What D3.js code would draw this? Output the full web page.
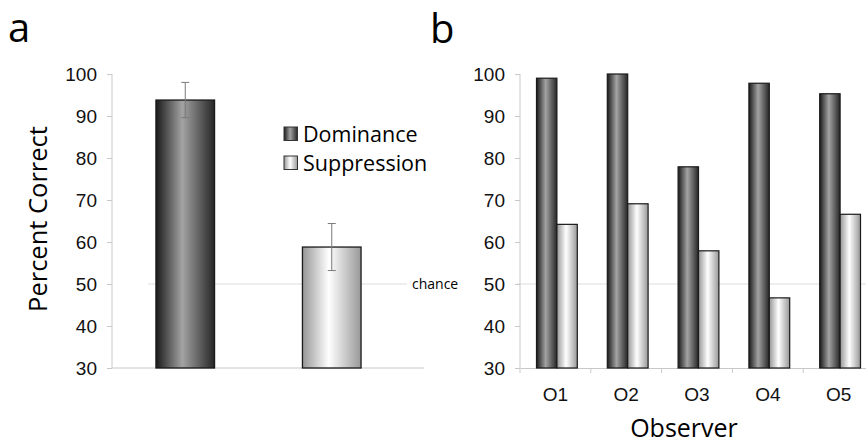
<!DOCTYPE html>
<meta charset="utf-8" />
<script src="https://d3js.org/d3.v7.min.js"></script>
<style>
  body { margin: 0; background: #fff; }
</style>
<div id="chart"></div>
<script>
  // data
  const conditions = ['Dominance', 'Suppression'];
  const meanCorrect = [93.8, 58.8];
  const errCorrect = [4.2, 5.6];
  const observers = ['O1', 'O2', 'O3', 'O4', 'O5'];
  const dominanceByObs = [99.0, 100.0, 77.9, 97.8, 95.3];
  const suppressionByObs = [64.2, 69.1, 57.9, 46.7, 66.6];
  const yTicks = [30, 40, 50, 60, 70, 80, 90, 100];
  const chanceLevel = 50;

  const W = 866, H = 445;
  const labelFont = '"Open Sans", "Noto Sans", sans-serif';
  const numFont = '"Liberation Sans", Arial, sans-serif';

  const svg = d3.select('#chart').append('svg')
    .attr('width', W).attr('height', H);

  // cylinder-ish gradients
  const defs = svg.append('defs');
  function grad(id, edgeL, mid, edgeR) {
    const g = defs.append('linearGradient').attr('id', id)
      .attr('x1', '0%').attr('x2', '100%').attr('y1', '0%').attr('y2', '0%');
    g.append('stop').attr('offset', '0%').attr('stop-color', edgeL);
    g.append('stop').attr('offset', '45%').attr('stop-color', mid);
    g.append('stop').attr('offset', '100%').attr('stop-color', edgeR);
  }
  grad('gDom', '#1a1a1a', '#a3a3a3', '#262626');
  grad('gSup', '#969696', '#ffffff', '#989898');
  const fillFor = { Dominance: 'url(#gDom)', Suppression: 'url(#gSup)' };

  const y = d3.scaleLinear().domain([30, 100]).range([368, 74]);

  function yAxis(x0) {
    const g = svg.append('g')
      .attr('transform', `translate(${x0},0)`)
      .call(d3.axisLeft(y).tickValues(yTicks).tickSize(5).tickPadding(10));
    g.select('.domain').attr('stroke', '#c8c8c8').attr('d', `M0,${y(30)}V${y(100)}`);
    g.selectAll('.tick line').attr('stroke', '#c8c8c8');
    g.selectAll('.tick text')
      .style('font-family', numFont).style('font-size', '19px').attr('fill', '#111');
    return g;
  }

  // ---------- panel a ----------
  const xa = d3.scaleBand().domain(conditions).range([112, 405])
    .paddingInner(0.6).paddingOuter(0.3);

  svg.append('line')
    .attr('x1', 148).attr('x2', 407)
    .attr('y1', y(chanceLevel)).attr('y2', y(chanceLevel))
    .attr('stroke', '#dedede').attr('stroke-width', 1.2);

  svg.append('line')
    .attr('x1', 112).attr('x2', 424)
    .attr('y1', y(30)).attr('y2', y(30))
    .attr('stroke', '#c8c8c8');

  yAxis(112);

  svg.append('g').selectAll('rect')
    .data(conditions)
    .join('rect')
    .attr('x', d => xa(d))
    .attr('y', (d, i) => y(meanCorrect[i]))
    .attr('width', xa.bandwidth())
    .attr('height', (d, i) => y(30) - y(meanCorrect[i]))
    .attr('fill', d => fillFor[d])
    .attr('stroke', '#1a1a1a').attr('stroke-width', 1.3);

  const eb = svg.append('g').attr('stroke', '#7a7a7a').attr('stroke-width', 1);
  conditions.forEach((c, i) => {
    const cx = xa(c) + xa.bandwidth() / 2;
    const hi = y(meanCorrect[i] + errCorrect[i]), lo = y(meanCorrect[i] - errCorrect[i]);
    eb.append('line').attr('x1', cx).attr('x2', cx).attr('y1', hi).attr('y2', lo);
    eb.append('line').attr('x1', cx - 4).attr('x2', cx + 4).attr('y1', hi).attr('y2', hi);
    eb.append('line').attr('x1', cx - 4).attr('x2', cx + 4).attr('y1', lo).attr('y2', lo);
  });

  svg.append('text')
    .attr('x', 412).attr('y', y(chanceLevel) + 5)
    .style('font-family', labelFont).style('font-size', '14px')
    .text('chance');

  // legend
  const lg = svg.append('g').attr('transform', 'translate(284,127)');
  conditions.forEach((c, i) => {
    lg.append('rect')
      .attr('x', 0).attr('y', i * 29)
      .attr('width', 13.5).attr('height', 13.5)
      .attr('fill', fillFor[c]).attr('stroke', '#333').attr('stroke-width', 1);
    lg.append('text')
      .attr('x', 19).attr('y', i * 29 + 14.5)
      .style('font-family', labelFont).style('font-size', '21.5px')
      .text(c);
  });

  svg.append('text')
    .attr('transform', `translate(47,${219}) rotate(-90)`)
    .attr('text-anchor', 'middle')
    .style('font-family', labelFont).style('font-size', '25.5px')
    .text('Percent Correct');

  svg.append('text').attr('x', 8).attr('y', 42)
    .style('font-family', labelFont).style('font-size', '40px').text('a');

  // ---------- panel b ----------
  const xb = d3.scaleBand().domain(observers).range([520, 874]);
  const xInner = d3.scaleBand().domain(conditions).range([16.5, 57.3]);

  svg.append('line')
    .attr('x1', 517).attr('x2', W)
    .attr('y1', y(chanceLevel)).attr('y2', y(chanceLevel))
    .attr('stroke', '#dedede').attr('stroke-width', 1.2);

  yAxis(520);

  const xg = svg.append('g')
    .attr('transform', `translate(0,${y(30)})`)
    .call(d3.axisBottom(xb).tickSize(0).tickPadding(20));
  xg.select('.domain').attr('stroke', '#c8c8c8');
  xg.selectAll('.tick text')
    .style('font-family', numFont).style('font-size', '19px').attr('fill', '#111');
  xg.selectAll('.sep')
    .data(observers)
    .join('line')
    .attr('x1', d => xb(d)).attr('x2', d => xb(d))
    .attr('y1', 0).attr('y2', 5)
    .attr('stroke', '#c8c8c8');

  const rows = observers.map((o, i) => ({ o, vals: [dominanceByObs[i], suppressionByObs[i]] }));
  svg.append('g').selectAll('g')
    .data(rows)
    .join('g')
    .attr('transform', d => `translate(${xb(d.o)},0)`)
    .selectAll('rect')
    .data(d => d.vals.map((v, k) => ({ c: conditions[k], v })))
    .join('rect')
    .attr('x', d => xInner(d.c))
    .attr('y', d => y(d.v))
    .attr('width', xInner.bandwidth())
    .attr('height', d => y(30) - y(d.v))
    .attr('fill', d => fillFor[d.c])
    .attr('stroke', '#1a1a1a').attr('stroke-width', 1.2);

  svg.append('text')
    .attr('x', 684).attr('y', 437)
    .attr('text-anchor', 'middle')
    .style('font-family', labelFont).style('font-size', '25px')
    .text('Observer');

  svg.append('text').attr('x', 430).attr('y', 43)
    .style('font-family', labelFont).style('font-size', '40px').text('b');
</script>
